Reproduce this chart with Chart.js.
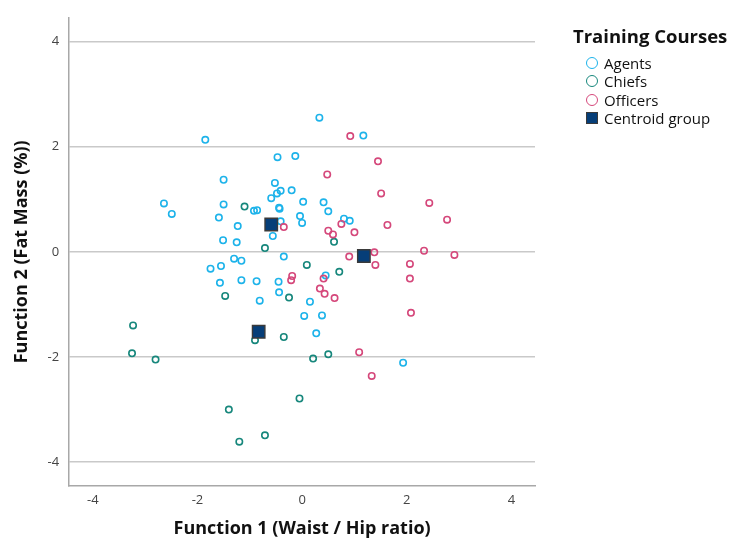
<!DOCTYPE html>
<html>
<head>
<meta charset="utf-8">
<script src="https://cdn.jsdelivr.net/npm/chart.js@4/dist/chart.umd.min.js"></script>
<style>
  body { margin: 0; background: #fff; }
  #wrap { position: relative; width: 729px; height: 540px; }
  #legend { position: absolute; left: 573px; top: 23px; font-family: "Open Sans", sans-serif; color: #111; }
  #legend .title { font-weight: bold; font-size: 18.5px; line-height: 26px; margin-bottom: 5px; white-space: nowrap; }
  #legend .item { display: flex; align-items: center; height: 18.3px; margin-left: 13px; font-size: 15px; white-space: nowrap; }
  #legend .mark { width: 10px; height: 10px; margin-right: 6px; box-sizing: content-box; }
</style>
</head>
<body>
<div id="wrap">
  <canvas id="c" width="729" height="540"></canvas>
  <div id="legend"></div>
</div>
<script>
// discriminant scores
const agentsX = [-1.85, -0.47, -0.13, -1.50, -0.52, -0.41, -0.48, -0.20, -0.59, 0.02, -2.64, -2.49, -1.50, -1.59, -0.92, -0.86, -0.44, -0.43, -0.04, 0.00, -1.23, -0.41, -0.56, -1.51, -1.25, -0.35, -1.30, -1.16, -1.75, -1.55, -1.57, -1.16, -0.87, -0.45, -0.44, -0.81, 0.15, 0.04, 0.38, 0.27, 1.93, 0.33, 1.17, 0.41, 0.50, 0.80, 0.91, 0.45]
const agentsY = [2.13, 1.80, 1.82, 1.37, 1.31, 1.16, 1.11, 1.17, 1.02, 0.95, 0.92, 0.72, 0.90, 0.65, 0.78, 0.79, 0.84, 0.82, 0.68, 0.55, 0.49, 0.58, 0.30, 0.22, 0.18, -0.09, -0.13, -0.17, -0.32, -0.27, -0.59, -0.54, -0.56, -0.57, -0.77, -0.93, -0.95, -1.22, -1.21, -1.55, -2.11, 2.55, 2.21, 0.94, 0.77, 0.63, 0.59, -0.45]

const chiefsX = [-1.10, -0.71, 0.09, 0.61, 0.71, -1.47, -0.25, -3.23, -3.25, -2.80, -0.90, -0.35, 0.21, 0.50, -0.05, -1.40, -0.71, -1.20]
const chiefsY = [0.86, 0.07, -0.25, 0.19, -0.38, -0.84, -0.87, -1.40, -1.93, -2.05, -1.68, -1.62, -2.03, -1.95, -2.79, -3.00, -3.49, -3.61]

const officersX = [-0.35, -0.19, -0.21, 0.92, 1.45, 0.48, 1.51, 2.43, 2.77, 1.63, 0.75, 0.50, 0.59, 1.00, 0.90, 1.38, 1.40, 2.33, 2.91, 2.06, 2.06, 0.41, 0.34, 0.43, 0.62, 2.08, 1.09, 1.33]
const officersY = [0.47, -0.46, -0.54, 2.20, 1.72, 1.47, 1.11, 0.93, 0.61, 0.51, 0.53, 0.40, 0.33, 0.37, -0.09, -0.01, -0.25, 0.02, -0.06, -0.23, -0.51, -0.51, -0.70, -0.80, -0.88, -1.16, -1.91, -2.36]

const centroidX = [-0.59, 1.18, -0.83]
const centroidY = [0.52, -0.08, -1.52]

const tickValues = [-4, -2, 0, 2, 4]
const axisMin = -4.45
const axisMax = 4.45

function points(xs, ys) {
  return xs.map((x, i) => ({ x: x, y: ys[i] }))
}

function circles(label, xs, ys, color, order) {
  return {
    label: label,
    data: points(xs, ys),
    pointStyle: 'circle',
    pointRadius: 3.2,
    pointBorderWidth: 1.6,
    borderColor: color,
    backgroundColor: 'rgba(0,0,0,0)',
    order: order
  }
}

const datasets = [
  circles('Agents', agentsX, agentsY, '#1db3ea', 3),
  circles('Chiefs', chiefsX, chiefsY, '#17877c', 2),
  circles('Officers', officersX, officersY, '#d5487b', 1),
  {
    label: 'Centroid group',
    data: points(centroidX, centroidY),
    pointStyle: 'rect',
    pointRadius: 8.8,
    pointBorderWidth: 1.4,
    borderColor: '#3a3a3a',
    backgroundColor: '#063e78',
    order: 0
  }
]

const fontFamily = '"Open Sans", sans-serif'

function axis(title, pad) {
  return {
    type: 'linear',
    min: axisMin,
    max: axisMax,
    afterBuildTicks: (scale) => { scale.ticks = tickValues.map(v => ({ value: v })) },
    grid: { color: '#c9c9c9', lineWidth: 1.6, drawTicks: false, tickLength: 0 },
    border: { display: true, color: '#a8a8a8', width: 1.5 },
    ticks: { color: '#444', padding: 10, font: { family: fontFamily, size: 13 } },
    title: { display: true, text: title, color: '#111', padding: pad, font: { family: fontFamily, size: 18, weight: 'bold' } }
  }
}

const xAxis = axis('Function 1 (Waist / Hip ratio)', { top: 3, bottom: 0 })
xAxis.grid = { display: true, color: 'rgba(0,0,0,0)', drawTicks: false, tickLength: 0 }
xAxis.ticks.padding = 7
const yAxis = axis('Function 2 (Fat Mass (%))', { top: 11, bottom: 5 })

const chart = new Chart(document.getElementById('c').getContext('2d'), {
  type: 'scatter',
  data: { datasets: datasets },
  options: {
    responsive: false,
    animation: false,
    layout: { padding: { top: 13, right: 194, left: 0, bottom: 0 } },
    plugins: { legend: { display: false }, tooltip: { enabled: false } },
    scales: { x: xAxis, y: yAxis }
  }
})

// html legend built from the datasets
const legend = document.getElementById('legend')
legend.innerHTML = '<div class="title">Training Courses</div>'
chart.data.datasets.forEach(ds => {
  const item = document.createElement('div')
  item.className = 'item'
  const mark = document.createElement('span')
  mark.className = 'mark'
  if (ds.pointStyle === 'circle') {
    mark.style.border = '1.6px solid ' + ds.borderColor
    mark.style.borderRadius = '50%'
  } else {
    mark.style.border = '1.4px solid ' + ds.borderColor
    mark.style.background = ds.backgroundColor
  }
  item.appendChild(mark)
  item.appendChild(document.createTextNode(ds.label))
  legend.appendChild(item)
})
</script>
</body>
</html>
